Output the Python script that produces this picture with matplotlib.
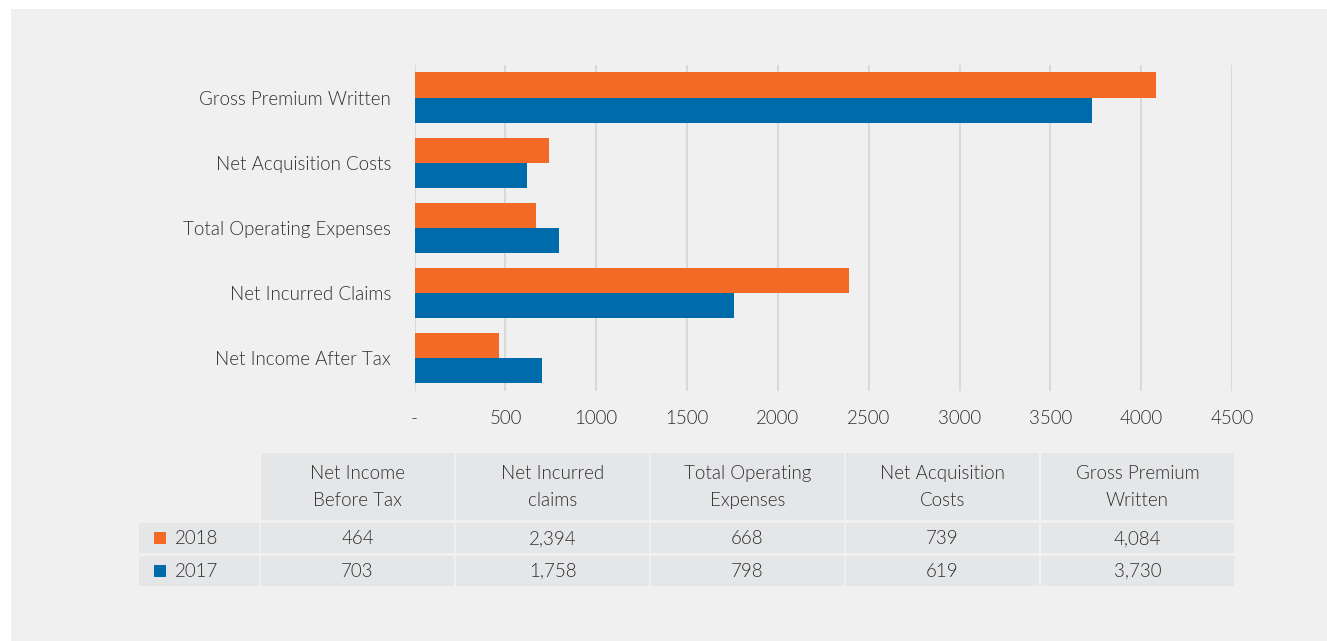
import numpy as np
import matplotlib
matplotlib.use("Agg")
import matplotlib.pyplot as plt
from matplotlib.patches import Rectangle

plt.rcParams['font.family'] = ['Lato', 'DejaVu Sans']
plt.rcParams['font.weight'] = 300

# 数据
categories = ['Net Income After Tax', 'Net Incurred Claims', 'Total Operating Expenses',
              'Net Acquisition Costs', 'Gross Premium Written']
table_headers = ['Net Income\nBefore Tax', 'Net Incurred\nclaims', 'Total Operating\nExpenses',
                 'Net Acquisition\nCosts', 'Gross Premium\nWritten']
years = ['2018', '2017']
values_2018 = [464, 2394, 668, 739, 4084]
values_2017 = [703, 1758, 798, 619, 3730]
xticks = [0, 500, 1000, 1500, 2000, 2500, 3000, 3500, 4000, 4500]
xtick_labels = ['-', '500', '1000', '1500', '2000', '2500', '3000', '3500', '4000', '4500']

c2018 = '#f26a25'
c2017 = '#006bab'
bg = '#f0f0f0'
cell = '#e5e6e8'
txt = '#2e2e2e'
fs = 13.5

W, H = 1327, 641
fig = plt.figure(figsize=(W / 100, H / 100), dpi=100, facecolor='white')

# 背景面板 + 表格画在像素坐标的底层轴上
base = fig.add_axes([0, 0, 1, 1])
base.set_xlim(0, W)
base.set_ylim(H, 0)
base.axis('off')
base.add_patch(Rectangle((11, 9), W - 11, H - 9, facecolor=bg, edgecolor='none'))

# 条形图
ax = fig.add_axes([414.5 / W, 1 - 390.7 / H, (1232 - 414.5) / W, (390.7 - 65) / H])
ax.set_facecolor('none')
y = np.arange(len(categories))
h = 0.385
ax.barh(y + h / 2, values_2018, height=h, color=c2018, zorder=3)
ax.barh(y - h / 2, values_2017, height=h, color=c2017, zorder=3)
ax.set_xlim(0, 4500)
ax.set_ylim(-0.5, len(categories) - 0.5)
ax.set_yticks(y)
ax.set_yticklabels(categories, fontsize=fs, color=txt)
ax.set_xticks(xticks)
ax.set_xticklabels(xtick_labels, fontsize=fs, color=txt)
ax.grid(axis='x', color='#d9d9d9', linewidth=1.5, zorder=0)
ax.tick_params(axis='y', length=0, pad=17)
ax.tick_params(axis='x', length=0, pad=14)
for s in ax.spines.values():
    s.set_visible(False)

# 数据表
col_left = [261, 456, 651, 846, 1041]
col_w = 193
head_top, head_h = 453, 66.5
row_top = [523, 555.5]
row_h = 30
for i, x0 in enumerate(col_left):
    base.add_patch(Rectangle((x0, head_top), col_w, head_h, facecolor=cell, edgecolor='none'))
    base.text(x0 + col_w / 2, head_top + head_h / 2 + 1, table_headers[i], ha='center', va='center',
              fontsize=fs, color=txt, linespacing=1.7)
for r, (yr, vals, col) in enumerate(zip(years, [values_2018, values_2017], [c2018, c2017])):
    yt = row_top[r]
    base.add_patch(Rectangle((139, yt), 120, row_h, facecolor=cell, edgecolor='none'))
    base.add_patch(Rectangle((154, yt + 9), 12, 12, facecolor=col, edgecolor='none'))
    base.text(175, yt + row_h / 2 + 1, yr, ha='left', va='center', fontsize=fs, color=txt)
    for i, x0 in enumerate(col_left):
        base.add_patch(Rectangle((x0, yt), col_w, row_h, facecolor=cell, edgecolor='none'))
        base.text(x0 + col_w / 2, yt + row_h / 2 + 1, f'{vals[i]:,}', ha='center', va='center',
                  fontsize=fs, color=txt)

fig.savefig('out.png', dpi=100, facecolor='white')
